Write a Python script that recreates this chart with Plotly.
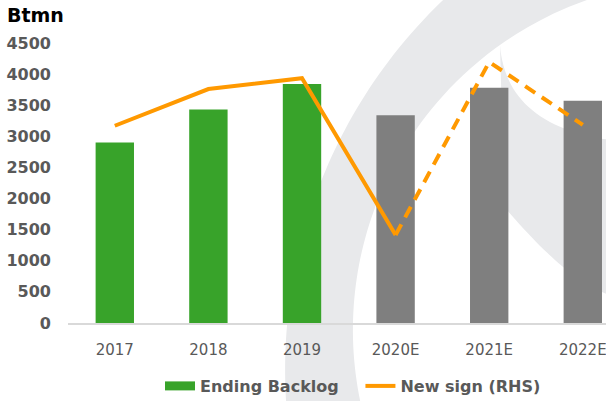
import numpy as np
import plotly.graph_objects as go

# ---- data ----
years = ["2017", "2018", "2019", "2020E", "2021E", "2022E"]
ending_backlog = [2900, 3430, 3840, 3340, 3780, 3570]
new_sign = [3170, 3760, 3935, 1415, 4195, 3185]
y_ticks = [0, 500, 1000, 1500, 2000, 2500, 3000, 3500, 4000, 4500]

# ---- styles ----
GREEN = "#38A32A"
GREY = "#7F7F7F"
ORANGE = "#FF9900"
TXT = "#595959"
WM = "#E8E9EB"

W, H = 606, 401
L, R, T, B = 68, 0, 43, 78
PW, PH = W - L - R, H - T - B


def to_paper(px, py):
    return (px - L) / PW, (H - B - py) / PH


def path_from(points):
    pts = [to_paper(x, y) for x, y in points]
    s = "M{:.5f},{:.5f}".format(*pts[0])
    for p in pts[1:]:
        s += " L{:.5f},{:.5f}".format(*p)
    return s + " Z"


# watermark crescent (decoration)
ys = np.linspace(0, H, 60)
outer = [(796.7 - np.sqrt(511.6**2 - (y - 369.7) ** 2), y) for y in ys]
inner = [(702.6 - np.sqrt(349.7**2 - (y - 330) ** 2), y) for y in ys[::-1]]
crescent = path_from(outer + inner)


def quad(p0, p1, p2, n=30):
    t = np.linspace(0, 1, n)
    return [((1 - a) ** 2 * p0[0] + 2 * (1 - a) * a * p1[0] + a**2 * p2[0],
             (1 - a) ** 2 * p0[1] + 2 * (1 - a) * a * p1[1] + a**2 * p2[1]) for a in t]


sw = (quad((500, 45), (506, 125), (610, 140)) + [(610, 295)]
      + quad((610, 295), (569.5, 283), (507, 210)) + [(502, 120)])
swoosh = path_from(sw)

colors = [GREY if y.endswith("E") else GREEN for y in years]
NB = "\u00a0"

fig = go.Figure()
fig.add_trace(go.Bar(
    x=years, y=ending_backlog, marker=dict(color=colors, line=dict(width=0)),
    width=0.41, showlegend=False, name="Ending Backlog",
))
# legend proxy for bars
fig.add_trace(go.Scatter(
    x=[None], y=[None], mode="lines", line=dict(color=GREEN, width=9),
    name="Ending Backlog" + NB * 3, showlegend=True,
))
fig.add_trace(go.Scatter(
    x=years[:4], y=new_sign[:4], mode="lines", yaxis="y2",
    line=dict(color=ORANGE, width=4), name="New sign (RHS)", showlegend=True,
))
fig.add_trace(go.Scatter(
    x=years[3:], y=new_sign[3:], mode="lines", yaxis="y2",
    line=dict(color=ORANGE, width=4, dash="12px,8px"), name="New sign (RHS)",
    showlegend=False,
))

fig.update_layout(
    width=W, height=H,
    margin=dict(l=L, r=R, t=T, b=B, pad=0, autoexpand=False),
    paper_bgcolor="white", plot_bgcolor="rgba(0,0,0,0)",
    font=dict(family="DejaVu Sans", color=TXT),
    xaxis=dict(
        type="category", range=[-0.5, PW / 93.6 - 0.5], showgrid=False,
        showline=True, linecolor="#D9D9D9", linewidth=2, ticks="",
        tickfont=dict(family="DejaVu Sans", size=15, color=TXT),
        ticklabelstandoff=12, zeroline=False, automargin=False,
    ),
    yaxis=dict(
        range=[0, 4500], tickvals=y_ticks, showgrid=False, zeroline=False,
        showline=False, ticks="", automargin=False,
        tickfont=dict(family="DejaVu Sans", size=16, color=TXT, weight="bold"),
        ticklabelstandoff=16,
    ),
    yaxis2=dict(range=[0, 4500], overlaying="y", side="right", visible=False),
    legend=dict(
        orientation="h", x=to_paper(353, 0)[0], xanchor="center",
        y=to_paper(0, 386)[1], yanchor="middle",
        font=dict(family="DejaVu Sans", size=16, color=TXT, weight="bold"),
        itemwidth=30, bgcolor="rgba(0,0,0,0)",
    ),
    shapes=[
        dict(type="path", xref="paper", yref="paper", path=crescent,
             fillcolor=WM, line=dict(width=0), layer="below"),
        dict(type="path", xref="paper", yref="paper", path=swoosh,
             fillcolor=WM, line=dict(width=0), layer="below"),
    ],
    annotations=[
        dict(text="Btmn", xref="paper", yref="paper", x=to_paper(5, 0)[0],
             y=to_paper(0, 15)[1], xanchor="left", yanchor="middle", showarrow=False,
             font=dict(family="DejaVu Sans", size=19, color="black", weight="bold")),
    ],
)

fig.write_html(
    "out.html",
    config={"displayModeBar": False},
    post_script="document.body.style.margin='0';document.body.style.overflow='hidden';",
)
